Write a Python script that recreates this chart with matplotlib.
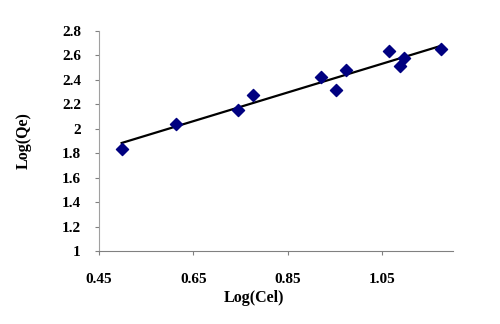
import numpy as np
import matplotlib.pyplot as plt

# data
log_cel = [0.498, 0.613, 0.745, 0.776, 0.920, 0.952, 0.973, 1.065, 1.088, 1.096, 1.174]
log_qe = [1.834, 2.039, 2.157, 2.280, 2.425, 2.321, 2.485, 2.635, 2.512, 2.581, 2.649]
x_ticks = [0.45, 0.65, 0.85, 1.05]
y_ticks = [1, 1.2, 1.4, 1.6, 1.8, 2, 2.2, 2.4, 2.6, 2.8]

plt.rcParams['font.family'] = ['Liberation Serif', 'DejaVu Serif']
plt.rcParams['font.weight'] = 'bold'

fig = plt.figure(figsize=(5, 3.24), dpi=100)
ax = fig.add_axes([0.198, 0.2253, 0.708, 0.679])

# linear trend line over the data range
k, b = np.polyfit(log_cel, log_qe, 1)
xs = np.array([min(log_cel), max(log_cel)])
ax.plot(xs, k * xs + b, color='black', lw=1.6, zorder=2)
ax.scatter(log_cel, log_qe, marker='D', s=38, color='#000080', zorder=3)

ax.set_xlim(0.45, 1.2)
ax.set_ylim(1, 2.8)
ax.set_xticks(x_ticks)
ax.set_xticklabels(['0.45', '0.65', '0.85', '1.05'])
ax.set_yticks(y_ticks)
ax.set_yticklabels(['1', '1.2', '1.4', '1.6', '1.8', '2', '2.2', '2.4', '2.6', '2.8'])

for s in ['top', 'right']:
    ax.spines[s].set_visible(False)
ax.spines['left'].set_color('#a0a0a0')
ax.spines['bottom'].set_color('#808080')
ax.tick_params(axis='both', direction='out', length=3, color='#808080', labelsize=11)
ax.tick_params(axis='y', pad=10)
ax.tick_params(axis='x', pad=13)

ax.set_xlabel('Log(Cel)', fontsize=11.5, fontweight='bold')
ax.set_ylabel('Log(Qe)', fontsize=11.5, fontweight='bold')
ax.xaxis.set_label_coords(0.437, -0.175)
ax.yaxis.set_label_coords(-0.189, 0.5)

fig.savefig('out.png', dpi=100)
